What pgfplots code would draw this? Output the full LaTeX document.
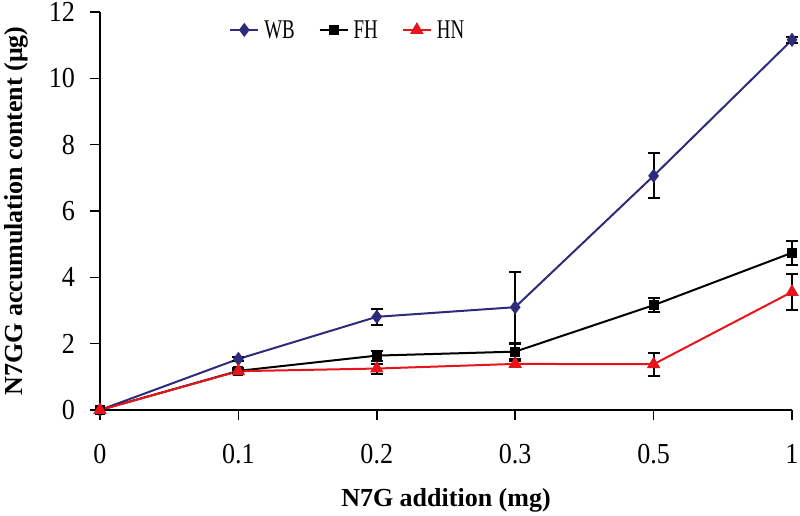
\documentclass[border=0pt]{standalone}
\usepackage{fontspec}
\setmainfont{Liberation Serif}
\newfontfamily\tickfont[FakeStretch=0.9]{Liberation Serif}
\newfontfamily\legfont[FakeStretch=0.7]{Liberation Serif}
\usepackage{pgfplots}
\pgfplotsset{compat=1.18}
\definecolor{wb}{HTML}{2E2B7A}
\definecolor{hn}{HTML}{E8141B}
\begin{document}
\begin{tikzpicture}
\begin{axis}[
  scale only axis, width=692pt, height=398pt,
  xmin=0, xmax=5, ymin=0, ymax=12,
  axis x line*=bottom, axis y line*=left,
  axis line style={line width=1.5pt, -},
  xtick={0,1,2,3,4,5}, xticklabels={0,0.1,0.2,0.3,0.5,1},
  ytick={0,2,4,6,8,10,12},
  tick align=outside, major tick length=10pt,
  tick style={line width=1.5pt, black},
  /pgf/number format/assume math mode=true,
  tick label style={font=\tickfont\fontsize{29}{32}\selectfont},
  xticklabel style={anchor=base, yshift=-43pt},
  yticklabel style={anchor=east, xshift=-11.5pt},
  xlabel={\textbf{N7G addition (mg)}},
  ylabel={\textbf{N7GG accumulation content (μg)}},
  label style={font=\fontsize{26}{30}\selectfont},
  xlabel style={at={(rel axis cs:0.5,-0.2437)}, anchor=base},
  ylabel style={at={(rel axis cs:-0.1127,0.5)}, anchor=base},
  clip=false,
  legend columns=3,
  legend style={at={(rel axis cs:0.358,0.955)}, anchor=center, draw=none, fill=none,
    font=\legfont\fontsize{27}{30}\selectfont, column sep=3pt,
    /tikz/every even column/.append style={column sep=22pt}},
  legend image code/.code={\draw[#1] (0pt,0pt) -- (28pt,0pt); \draw[#1, mark repeat=1] plot coordinates {(14pt,0pt)};},
  error bars/y dir=both, error bars/y explicit,
  error bars/error bar style={black, line width=2pt},
  error bars/error mark options={black, rotate=90, mark size=6pt, line width=2pt},
]
\addplot[wb, line width=2pt, mark=diamond*, mark size=5.5pt, mark options={fill=wb}]
 coordinates {(0,0) +- (0,0) (1,1.54) +- (0,0.05) (2,2.81) +- (0,0.25) (3,3.10) +- (0,1.07) (4,7.06) +- (0,0.68) (5,11.16) +- (0,0.1)};
\addlegendentry{WB}
\addplot[black, line width=2pt, mark=square*, mark size=4pt]
 coordinates {(0,0) +- (0,0) (1,1.18) +- (0,0.1) (2,1.64) +- (0,0.15) (3,1.76) +- (0,0.22) (4,3.16) +- (0,0.22) (5,4.74) +- (0,0.36)};
\addlegendentry{FH}
\addplot[hn, line width=2pt, mark=triangle*, mark size=5.8pt]
 coordinates {(0,0) +- (0,0) (1,1.17) +- (0,0.05) (2,1.25) +- (0,0.15) (3,1.39) +- (0,0.1) (4,1.38) +- (0,0.35) (5,3.56) +- (0,0.54)};
\addlegendentry{HN}
\end{axis}
\pgfresetboundingbox
\path[use as bounding box] (-100pt,-105pt) rectangle (700pt,410pt);
\end{tikzpicture}
\end{document}
